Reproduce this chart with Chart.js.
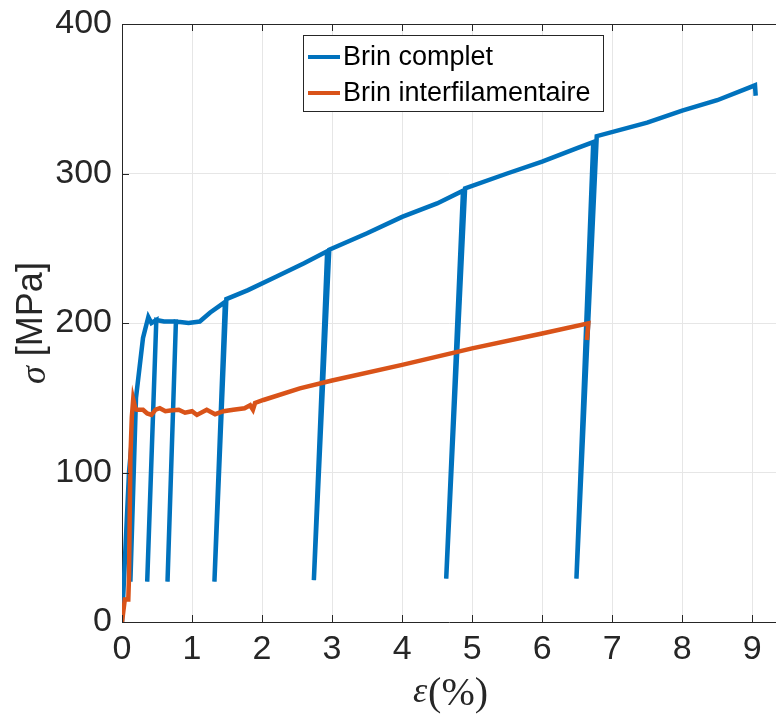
<!DOCTYPE html>
<html>
<head>
<meta charset="utf-8">
<script src="https://cdn.jsdelivr.net/npm/chart.js@4/dist/chart.umd.min.js"></script>
<style>
	html, body { margin: 0; padding: 0; background: #fff; overflow: hidden; }
	#wrap { width: 776px; height: 720px; position: relative; }
</style>
</head>
<body>
<div id="wrap"><canvas id="myChart"></canvas></div>
<script>
// Brin complet (loading with unload/reload cycles)
var completX = [0, 0.10, 0.19, 0.12, 0.20, 0.30, 0.376, 0.42, 0.49, 0.36, 0.49, 0.60, 0.77, 0.65, 0.77, 0.95, 1.11, 1.26, 1.47, 1.32, 1.49,
	1.8, 2.2, 2.6, 2.93, 2.74, 2.96, 3.5, 4.0, 4.5, 4.87, 4.63, 4.9, 5.5, 6.0, 6.5, 6.73, 6.49, 6.78, 7.5, 8.0, 8.5, 9.04, 9.05]
var completY = [0, 100, 148, 27, 150, 190, 204, 200, 202, 27, 202, 201, 201, 27, 201, 200, 201, 207, 214, 27, 216,
	222, 231, 240, 248, 28, 249, 260, 271, 280, 288.5, 29, 290, 300, 308, 317, 321, 29, 325, 334, 342, 349, 359, 352]

// Brin interfilamentaire
var interX = [0, 0.04, 0.09, 0.10, 0.12, 0.14, 0.16, 0.19, 0.21, 0.30, 0.36, 0.42, 0.48, 0.54, 0.62, 0.69, 0.81, 0.90, 1.00, 1.07,
	1.21, 1.33, 1.45, 1.59, 1.75, 1.83, 1.87, 1.90, 2.02, 2.54, 3.0, 4.0, 5.0, 6.0, 6.66, 6.64]
var interY = [0, 15, 15, 30, 110, 137, 149, 143, 142, 142, 139.5, 138.5, 142, 143, 141, 141.5, 142, 140, 141, 138.5,
	142, 139, 141, 142, 143, 145, 142, 146.5, 148.5, 156.3, 161.5, 172, 183, 193, 199.8, 188.6]

var seriesNames = ['Brin complet', 'Brin interfilamentaire']
var xTicks = [0, 1, 2, 3, 4, 5, 6, 7, 8, 9]
var yTicks = [0, 100, 200, 300, 400]

var blue = '#0072BD'
var orange = '#D95319'
var axisColor = '#262626'
var tickFont = '"Liberation Sans", Arial, sans-serif'

function toPoints(xs, ys) {
	return xs.map(function(x, i) { return { x: x, y: ys[i] } })
}

// axis box, inward ticks, titles and legend drawn the matlab way
var matlabDecor = {
	id: 'matlabDecor',
	afterDraw: function(chart) {
		var c = chart.ctx
		var a = chart.chartArea
		var xs = chart.scales.x
		var ys = chart.scales.y
		c.save()
		c.strokeStyle = axisColor
		c.lineWidth = 1
		c.beginPath()
		c.moveTo(a.left, a.top + 0.5)
		c.lineTo(a.right, a.top + 0.5)
		xTicks.forEach(function(t) {
			var px = Math.round(xs.getPixelForValue(t)) + 0.5
			c.moveTo(px, a.bottom)
			c.lineTo(px, a.bottom - 7)
			c.moveTo(px, a.top)
			c.lineTo(px, a.top + 7)
		})
		yTicks.forEach(function(t) {
			var py = Math.round(ys.getPixelForValue(t)) + 0.5
			c.moveTo(a.left, py)
			c.lineTo(a.left + 7, py)
		})
		c.stroke()

		// y title: sigma [MPa]
		c.fillStyle = axisColor
		c.translate(32, 323)
		c.rotate(-Math.PI / 2)
		c.textBaseline = 'middle'
		var f1 = 'italic 36px "Liberation Serif", serif'
		var f2 = '36px ' + tickFont
		c.font = f1
		var w1 = c.measureText('σ').width
		c.font = f2
		var w2 = c.measureText(' [MPa]').width
		var sx = -(w1 + w2) / 2
		c.font = f1
		c.textAlign = 'left'
		c.fillText('σ', sx, 4)
		c.font = f2
		c.fillText(' [MPa]', sx + w1, 0)
		c.setTransform(1, 0, 0, 1, 0, 0)

		// x title: epsilon(%)
		var g1 = 'italic 36px "Liberation Serif", serif'
		var g2 = '40px "Liberation Serif", serif'
		c.font = g1
		var v1 = c.measureText('ε').width
		c.font = g2
		var v2 = c.measureText('(%)').width
		var bx = 450 - (v1 + v2) / 2
		c.textBaseline = 'alphabetic'
		c.font = g1
		c.fillText('ε', bx, 702)
		c.font = g2
		c.fillText('(%)', bx + v1 + 1, 705)

		// legend box
		c.fillStyle = '#fff'
		c.fillRect(304, 36, 299, 75)
		c.strokeStyle = axisColor
		c.strokeRect(303.5, 35.5, 300, 76)
		c.font = '27px ' + tickFont
		c.textBaseline = 'middle'
		chart.data.datasets.forEach(function(ds, i) {
			var ly = 57 + i * 36
			c.strokeStyle = ds.borderColor
			c.lineWidth = 4
			c.beginPath()
			c.moveTo(308, ly)
			c.lineTo(340, ly)
			c.stroke()
			c.fillStyle = '#000'
			c.fillText(ds.label, 343, ly + 1)
		})
		c.restore()
	}
}

var ctx = document.getElementById('myChart')
var myChart = new Chart(ctx, {
	type: 'scatter',
	data: {
		datasets: [{
			label: seriesNames[0],
			data: toPoints(completX, completY),
			showLine: true,
			borderColor: blue,
			backgroundColor: blue,
			borderWidth: 4.5,
			pointRadius: 0,
			tension: 0,
			order: 1,
		}, {
			label: seriesNames[1],
			data: toPoints(interX, interY),
			showLine: true,
			borderColor: orange,
			backgroundColor: orange,
			borderWidth: 4.5,
			pointRadius: 0,
			tension: 0,
			order: 0,
		}]
	},
	options: {
		responsive: true,
		maintainAspectRatio: false,
		animation: false,
		layout: { padding: { top: 24, left: 0, right: 0, bottom: 0 } },
		plugins: {
			legend: { display: false },
			tooltip: { enabled: false },
		},
		scales: {
			x: {
				type: 'linear',
				min: 0,
				max: 9.34,
				afterFit: function(s) { s.height = 98 },
				afterBuildTicks: function(s) { s.ticks = xTicks.map(function(v) { return { value: v } }) },
				ticks: { includeBounds: false, color: axisColor, padding: 7, maxRotation: 0, font: { family: tickFont, size: 34 } },
				grid: { color: '#e6e6e6', drawTicks: false },
				border: { color: axisColor, width: 1 },
			},
			y: {
				min: 0,
				max: 400,
				afterFit: function(s) { s.width = 122 },
				afterBuildTicks: function(s) { s.ticks = yTicks.map(function(v) { return { value: v } }) },
				ticks: { color: axisColor, padding: 10, font: { family: tickFont, size: 34, lineHeight: 0.8 } },
				grid: { color: '#e6e6e6', drawTicks: false },
				border: { color: axisColor, width: 1 },
			}
		}
	},
	plugins: [matlabDecor]
})
</script>
</body>
</html>
